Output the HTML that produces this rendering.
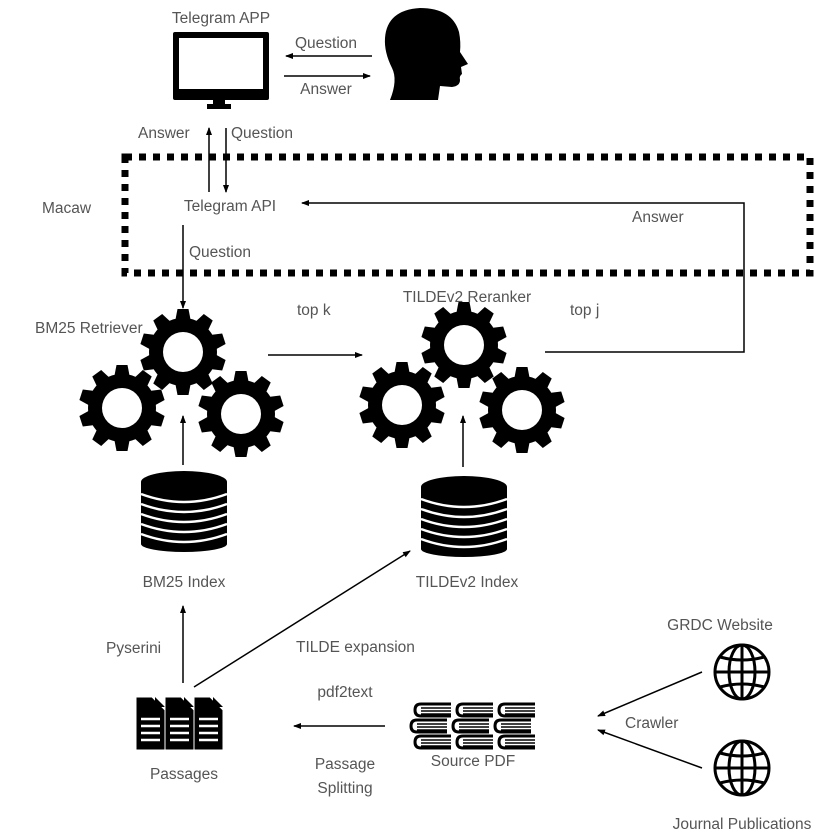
<!DOCTYPE html>
<html><head><meta charset="utf-8"><style>
html,body{margin:0;padding:0;background:#fff}
svg text{font-family:"Liberation Sans",sans-serif;font-size:15.5px;fill:#555}
</style></head><body>
<svg width="831" height="833" viewBox="0 0 831 833" xmlns="http://www.w3.org/2000/svg">
<defs>
<marker id="ah" markerWidth="8" markerHeight="8" refX="7" refY="4" orient="auto" markerUnits="userSpaceOnUse">
<path d="M0,1 L8,4 L0,7 z" fill="#000"/></marker>
<g id="gear">
<circle r="34" fill="#000"/>
<g fill="#000">
<path id="tooth" d="M-8,-30 L-5.5,-43 L5.5,-43 L8,-30 z"/>
<use href="#tooth" transform="rotate(36)"/>
<use href="#tooth" transform="rotate(72)"/>
<use href="#tooth" transform="rotate(108)"/>
<use href="#tooth" transform="rotate(144)"/>
<use href="#tooth" transform="rotate(180)"/>
<use href="#tooth" transform="rotate(216)"/>
<use href="#tooth" transform="rotate(252)"/>
<use href="#tooth" transform="rotate(288)"/>
<use href="#tooth" transform="rotate(324)"/>
</g>
<circle r="20" fill="#fff"/>
</g>
<g id="db">
<rect x="-43" y="10" width="86" height="62" fill="#000"/>
<ellipse cx="0" cy="72" rx="43" ry="8" fill="#000"/>
<ellipse cx="0" cy="10" rx="43" ry="11" fill="#000"/>
<g fill="none" stroke="#fff" stroke-width="2.5">
<path d="M-43,22 Q0,38 43,22"/><path d="M-43,32 Q0,48 43,32"/><path d="M-43,42 Q0,58 43,42"/>
<path d="M-43,52 Q0,68 43,52"/><path d="M-43,62 Q0,78 43,62"/>
</g>
</g>
<g id="doc">
<path d="M0,0 L16,0 L29,13 L29,53 L0,53 z" fill="#000" stroke="#fff" stroke-width="1"/>
<path d="M19,0 L29,10 L19,10 z" fill="#000"/>
<g stroke="#fff" stroke-width="2.5"><line x1="5" y1="22" x2="24" y2="22"/><line x1="5" y1="29" x2="24" y2="29"/><line x1="5" y1="36" x2="24" y2="36"/><line x1="5" y1="43" x2="24" y2="43"/></g>
</g>
<g id="book">
<path d="M38,1 L8,1 Q2,1 2,7 Q2,13 8,13 L38,13" fill="#fff" stroke="#000" stroke-width="3"/>
<g stroke="#000" stroke-width="1.5"><line x1="8" y1="5" x2="38" y2="5"/><line x1="8" y1="8" x2="38" y2="8"/><line x1="8" y1="11" x2="38" y2="11"/></g>
</g>
<g id="globe" fill="none" stroke="#000" stroke-width="3">
<circle r="27"/>
<ellipse rx="13" ry="27"/>
<line x1="0" y1="-27" x2="0" y2="27"/>
<line x1="-27" y1="0" x2="27" y2="0"/>
<path d="M-22,-15 Q0,-9 22,-15"/><path d="M-22,15 Q0,9 22,15"/>
</g>
</defs>

<text x="221" y="23" text-anchor="middle">Telegram APP</text>
<rect x="173" y="32" width="96" height="68" rx="2" fill="#000"/>
<rect x="179" y="38" width="84" height="51" fill="#fff"/>
<rect x="213" y="99" width="12" height="6" fill="#000"/>
<rect x="207" y="104" width="24" height="5" fill="#000"/>
<path d="M390,100 Q398,80 392,68 Q384,52 385,38 Q387,10 420,8 Q452,8 459,32 Q461,42 460,52 L468,64 L461,67 L462,74 Q459,76 460,80 Q460,86 452,87 L440,86 L438,100 z" fill="#000"/>
<line x1="372" y1="56" x2="286" y2="56" stroke="#000" stroke-width="1.5" marker-end="url(#ah)"/>
<line x1="284" y1="76" x2="370" y2="76" stroke="#000" stroke-width="1.5" marker-end="url(#ah)"/>
<text x="326" y="48" text-anchor="middle">Question</text>
<text x="326" y="94" text-anchor="middle">Answer</text>

<line x1="209" y1="192" x2="209" y2="128" stroke="#000" stroke-width="1.5" marker-end="url(#ah)"/>
<line x1="226" y1="128" x2="226" y2="192" stroke="#000" stroke-width="1.5" marker-end="url(#ah)"/>
<text x="138" y="138">Answer</text>
<text x="231" y="138">Question</text>

<rect x="125" y="157" width="685" height="116" fill="none" stroke="#000" stroke-width="7" stroke-dasharray="7,7"/>
<text x="42" y="213">Macaw</text>
<text x="230" y="211" text-anchor="middle">Telegram API</text>
<text x="632" y="222">Answer</text>
<path d="M545,352 L744,352 L744,203 L302,203" fill="none" stroke="#000" stroke-width="1.5" marker-end="url(#ah)"/>
<line x1="183" y1="225" x2="183" y2="308" stroke="#000" stroke-width="1.5" marker-end="url(#ah)"/>
<text x="189" y="257">Question</text>

<text x="35" y="333">BM25 Retriever</text>
<use href="#gear" x="183" y="352"/>
<use href="#gear" x="122" y="408"/>
<use href="#gear" x="241" y="414"/>
<text x="297" y="315">top k</text>
<line x1="268" y1="355" x2="362" y2="355" stroke="#000" stroke-width="1.5" marker-end="url(#ah)"/>
<text x="467" y="302" text-anchor="middle">TILDEv2 Reranker</text>
<text x="570" y="315">top j</text>
<use href="#gear" x="464" y="345"/>
<use href="#gear" x="402" y="405"/>
<use href="#gear" x="522" y="410"/>

<line x1="183" y1="465" x2="183" y2="416" stroke="#000" stroke-width="1.5" marker-end="url(#ah)"/>
<line x1="463" y1="467" x2="463" y2="416" stroke="#000" stroke-width="1.5" marker-end="url(#ah)"/>
<use href="#db" x="184" y="472"/>
<use href="#db" x="464" y="477"/>
<text x="184" y="587" text-anchor="middle">BM25 Index</text>
<text x="467" y="587" text-anchor="middle">TILDEv2 Index</text>

<line x1="183" y1="683" x2="183" y2="606" stroke="#000" stroke-width="1.5" marker-end="url(#ah)"/>
<text x="106" y="653">Pyserini</text>
<line x1="194" y1="687" x2="410" y2="551" stroke="#000" stroke-width="1.5" marker-end="url(#ah)"/>
<text x="296" y="652">TILDE expansion</text>
<use href="#doc" x="136" y="697"/>
<use href="#doc" x="165" y="697"/>
<use href="#doc" x="194" y="697"/>
<text x="184" y="779" text-anchor="middle">Passages</text>
<text x="345" y="697" text-anchor="middle">pdf2text</text>
<line x1="385" y1="726" x2="294" y2="726" stroke="#000" stroke-width="1.5" marker-end="url(#ah)"/>
<text x="345" y="769" text-anchor="middle">Passage</text>
<text x="345" y="793" text-anchor="middle">Splitting</text>
<use href="#book" x="413" y="703"/><use href="#book" x="455" y="703"/><use href="#book" x="497" y="703"/>
<use href="#book" x="409" y="719"/><use href="#book" x="451" y="719"/><use href="#book" x="493" y="719"/>
<use href="#book" x="413" y="735"/><use href="#book" x="455" y="735"/><use href="#book" x="497" y="735"/>
<text x="473" y="766" text-anchor="middle">Source PDF</text>
<text x="720" y="630" text-anchor="middle">GRDC Website</text>
<use href="#globe" x="742" y="672"/>
<use href="#globe" x="742" y="768"/>
<text x="742" y="829" text-anchor="middle">Journal Publications</text>
<line x1="702" y1="672" x2="598" y2="716" stroke="#000" stroke-width="1.5" marker-end="url(#ah)"/>
<line x1="702" y1="768" x2="598" y2="730" stroke="#000" stroke-width="1.5" marker-end="url(#ah)"/>
<text x="625" y="728">Crawler</text>
</svg>
</body></html>
